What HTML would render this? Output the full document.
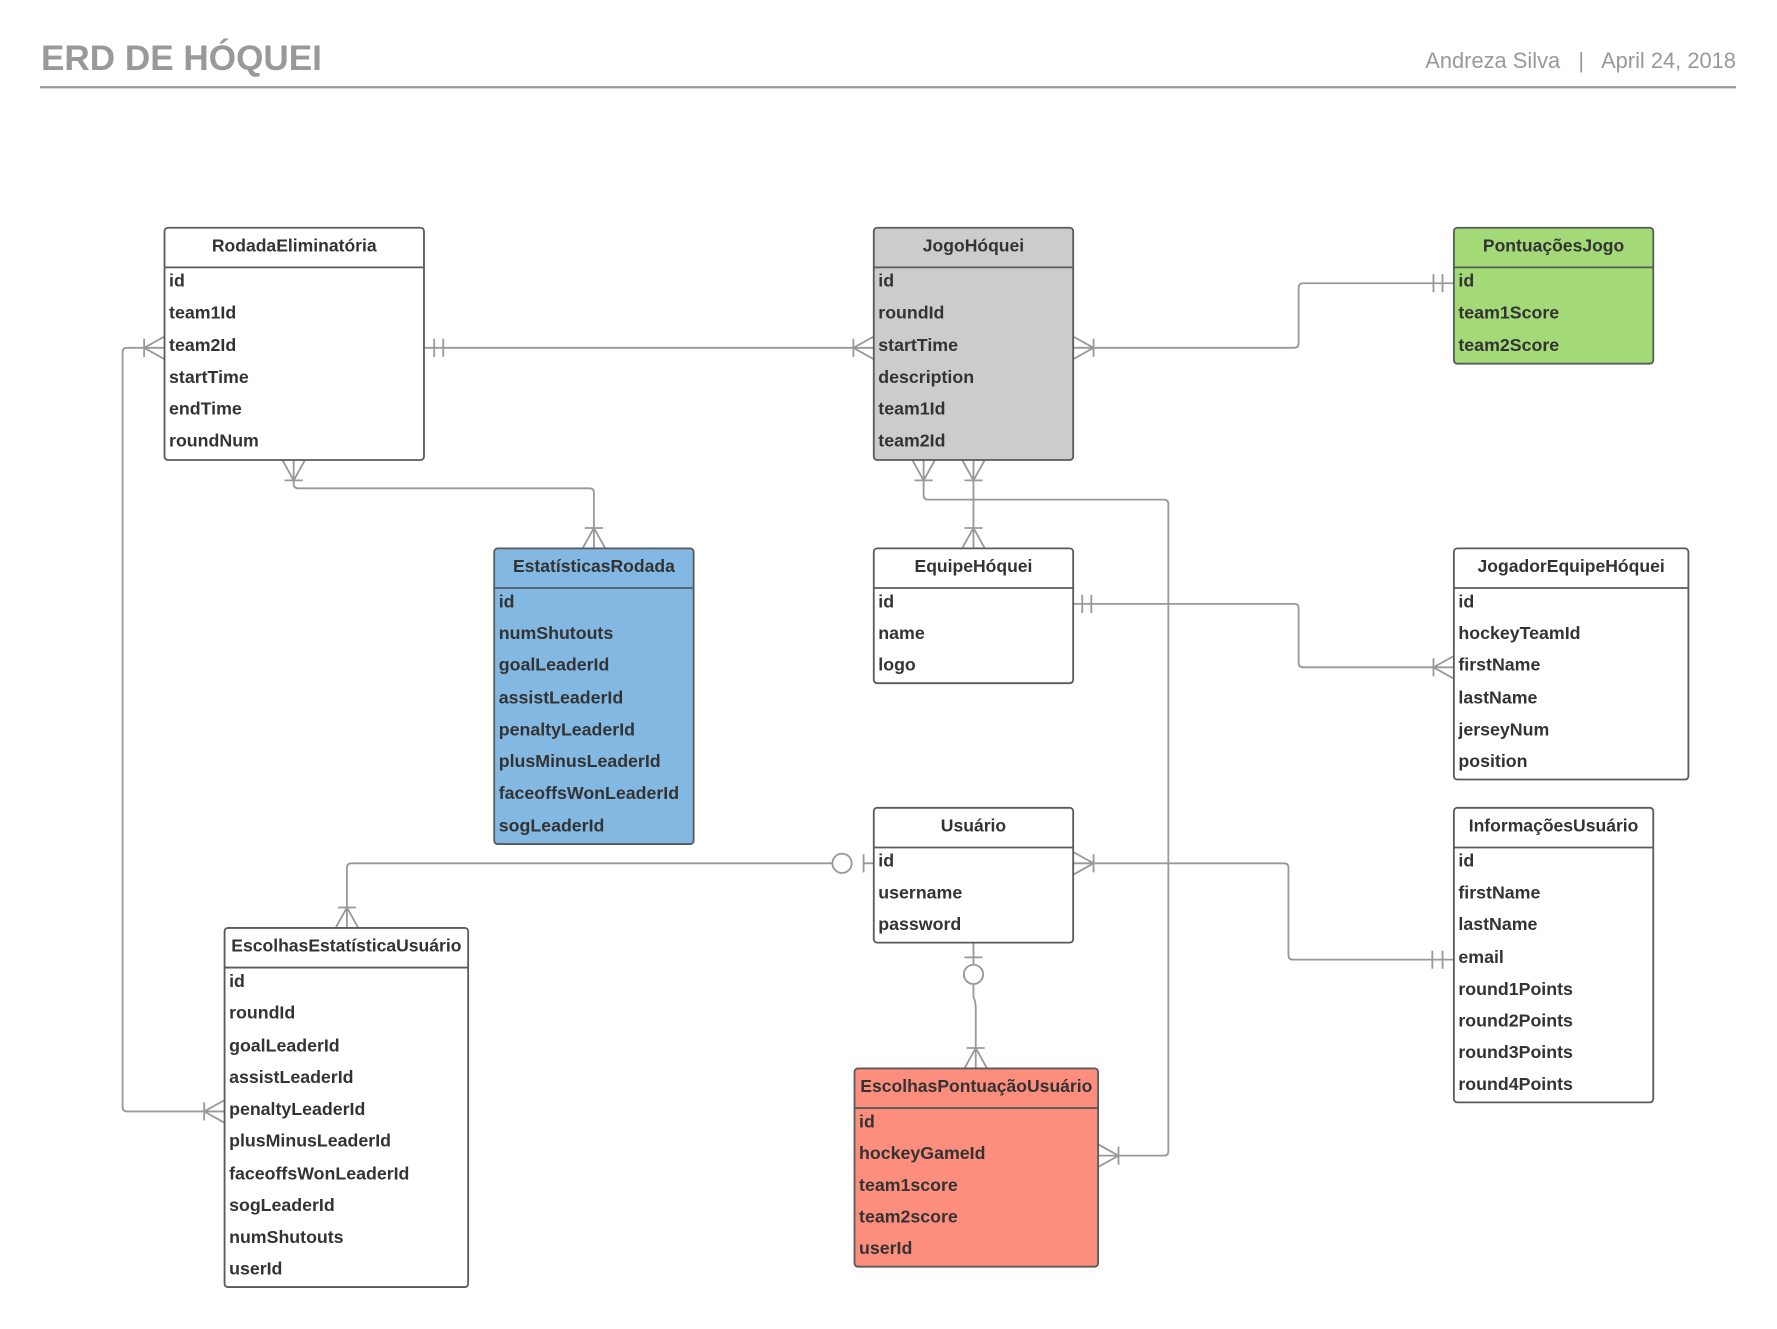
<!DOCTYPE html>
<html><head><meta charset="utf-8"><style>
html,body{margin:0;padding:0;background:#fff;}
svg{display:block;}
text{font-family:"Liberation Sans",Arial,sans-serif;}
.h{font-size:15.5px;font-weight:bold;fill:#333;text-anchor:middle;}
.r{font-size:15.7px;font-weight:bold;fill:#333;}
.b{stroke:#5a5a5a;stroke-width:1.6;}
.c{fill:none;stroke:#999;stroke-width:1.6;}
</style></head><body>
<svg width="1777" height="1329" viewBox="0 0 1568 1173" xmlns="http://www.w3.org/2000/svg">
<text x="36" y="62" style="font-size:31px;font-weight:bold;fill:#999">ERD DE HÓQUEI</text>
<text x="1532" y="60" style="font-size:19.3px;fill:#999;text-anchor:end;white-space:pre" xml:space="preserve">Andreza Silva   |   April 24, 2018</text>
<line x1="35" y1="77" x2="1532" y2="77" stroke="#999" stroke-width="2"/>

<g class="c">
<path d="M374 307 H771"/><path d="M383 299 V315 M391 299 V315"/><path d="M753 307 L771 297 M753 307 L771 317 M753 299 V315"/>
<path d="M947 307 H1142 Q1146 307 1146 303 V254 Q1146 250 1150 250 H1283"/><path d="M965 307 L947 297 M965 307 L947 317 M965 299 V315"/><path d="M1265 242 V258 M1273 242 V258"/>
<path d="M145 307 H112 Q108 307 108 311 V977 Q108 981 112 981 H198"/><path d="M127 307 L145 297 M127 307 L145 317 M127 299 V315"/><path d="M180 981 L198 971 M180 981 L198 991 M180 973 V989"/>
<path d="M259 406 V427 Q259 431 263 431 H520 Q524 431 524 435 V484"/><path d="M259 424 L249 406 M259 424 L269 406 M251 424 H267"/><path d="M524 466 L514 484 M524 466 L534 484 M516 466 H532"/>
<path d="M859 406 V484"/><path d="M859 424 L849 406 M859 424 L869 406 M851 424 H867"/><path d="M859 466 L849 484 M859 466 L869 484 M851 466 H867"/>
<path d="M815 406 V437 Q815 441 819 441 H1027 Q1031 441 1031 445 V1016 Q1031 1020 1027 1020 H969"/><path d="M815 424 L805 406 M815 424 L825 406 M807 424 H823"/><path d="M987 1020 L969 1010 M987 1020 L969 1030 M987 1012 V1028"/>
<path d="M947 533 H1142 Q1146 533 1146 537 V585 Q1146 589 1150 589 H1283"/><path d="M955 525 V541 M963 525 V541"/><path d="M1265 589 L1283 579 M1265 589 L1283 599 M1265 581 V597"/>
<path d="M752 762 H310 Q306 762 306 766 V819"/><path d="M762 754 V770 M771 762 H762"/><circle cx="743" cy="762" r="8.5" fill="#fff"/><path d="M306 801 L296 819 M306 801 L316 819 M298 801 H314"/>
<path d="M947 762 H1133 Q1137 762 1137 766 V843 Q1137 847 1141 847 H1283"/><path d="M965 762 L947 752 M965 762 L947 772 M965 754 V770"/><path d="M1264 839 V855 M1273 839 V855"/>
<path d="M859 832 V851 M859 869 V880 Q861 884 861 890 V943"/><path d="M851 845 H867"/><circle cx="859" cy="860" r="8.5" fill="#fff"/><path d="M861 925 L851 943 M861 925 L871 943 M853 925 H869"/>
</g>

<rect class="b" x="145" y="201" width="229" height="205" rx="3" fill="#fff"/><line class="b" x1="145" y1="236" x2="374" y2="236"/>
<text class="h" x="259.5" y="222">RodadaEliminatória</text>
<text class="r" x="149" y="253">id</text><text class="r" x="149" y="281">team1Id</text><text class="r" x="149" y="310">team2Id</text><text class="r" x="149" y="338">startTime</text><text class="r" x="149" y="366">endTime</text><text class="r" x="149" y="394">roundNum</text>

<rect class="b" x="771" y="201" width="176" height="205" rx="3" fill="#cccccc"/><line class="b" x1="771" y1="236" x2="947" y2="236"/>
<text class="h" x="859" y="222">JogoHóquei</text>
<text class="r" x="775" y="253">id</text><text class="r" x="775" y="281">roundId</text><text class="r" x="775" y="310">startTime</text><text class="r" x="775" y="338">description</text><text class="r" x="775" y="366">team1Id</text><text class="r" x="775" y="394">team2Id</text>

<rect class="b" x="1283" y="201" width="176" height="120" rx="3" fill="#a3d977"/><line class="b" x1="1283" y1="236" x2="1459" y2="236"/>
<text class="h" x="1371" y="222">PontuaçõesJogo</text>
<text class="r" x="1287" y="253">id</text><text class="r" x="1287" y="281">team1Score</text><text class="r" x="1287" y="310">team2Score</text>

<rect class="b" x="436" y="484" width="176" height="261" rx="3" fill="#83b8e3"/><line class="b" x1="436" y1="519" x2="612" y2="519"/>
<text class="h" x="524" y="505">EstatísticasRodada</text>
<text class="r" x="440" y="536">id</text><text class="r" x="440" y="564">numShutouts</text><text class="r" x="440" y="592">goalLeaderId</text><text class="r" x="440" y="621">assistLeaderId</text><text class="r" x="440" y="649">penaltyLeaderId</text><text class="r" x="440" y="677">plusMinusLeaderId</text><text class="r" x="440" y="705">faceoffsWonLeaderId</text><text class="r" x="440" y="734">sogLeaderId</text>

<rect class="b" x="771" y="484" width="176" height="119" rx="3" fill="#fff"/><line class="b" x1="771" y1="519" x2="947" y2="519"/>
<text class="h" x="859" y="505">EquipeHóquei</text>
<text class="r" x="775" y="536">id</text><text class="r" x="775" y="564">name</text><text class="r" x="775" y="592">logo</text>

<rect class="b" x="1283" y="484" width="207" height="204" rx="3" fill="#fff"/><line class="b" x1="1283" y1="519" x2="1490" y2="519"/>
<text class="h" x="1386.5" y="505">JogadorEquipeHóquei</text>
<text class="r" x="1287" y="536">id</text><text class="r" x="1287" y="564">hockeyTeamId</text><text class="r" x="1287" y="592">firstName</text><text class="r" x="1287" y="621">lastName</text><text class="r" x="1287" y="649">jerseyNum</text><text class="r" x="1287" y="677">position</text>

<rect class="b" x="771" y="713" width="176" height="119" rx="3" fill="#fff"/><line class="b" x1="771" y1="748" x2="947" y2="748"/>
<text class="h" x="859" y="734">Usuário</text>
<text class="r" x="775" y="765">id</text><text class="r" x="775" y="793">username</text><text class="r" x="775" y="821">password</text>

<rect class="b" x="1283" y="713" width="176" height="260" rx="3" fill="#fff"/><line class="b" x1="1283" y1="748" x2="1459" y2="748"/>
<text class="h" x="1371" y="734">InformaçõesUsuário</text>
<text class="r" x="1287" y="765">id</text><text class="r" x="1287" y="793">firstName</text><text class="r" x="1287" y="821">lastName</text><text class="r" x="1287" y="850">email</text><text class="r" x="1287" y="878">round1Points</text><text class="r" x="1287" y="906">round2Points</text><text class="r" x="1287" y="934">round3Points</text><text class="r" x="1287" y="962">round4Points</text>

<rect class="b" x="198" y="819" width="215" height="317" rx="3" fill="#fff"/><line class="b" x1="198" y1="854" x2="413" y2="854"/>
<text class="h" x="305.5" y="840">EscolhasEstatísticaUsuário</text>
<text class="r" x="202" y="871">id</text><text class="r" x="202" y="899">roundId</text><text class="r" x="202" y="928">goalLeaderId</text><text class="r" x="202" y="956">assistLeaderId</text><text class="r" x="202" y="984">penaltyLeaderId</text><text class="r" x="202" y="1012">plusMinusLeaderId</text><text class="r" x="202" y="1041">faceoffsWonLeaderId</text><text class="r" x="202" y="1069">sogLeaderId</text><text class="r" x="202" y="1097">numShutouts</text><text class="r" x="202" y="1125">userId</text>

<rect class="b" x="754" y="943" width="215" height="175" rx="3" fill="#fd8e7e"/><line class="b" x1="754" y1="978" x2="969" y2="978"/>
<text class="h" x="861.5" y="964">EscolhasPontuaçãoUsuário</text>
<text class="r" x="758" y="995">id</text><text class="r" x="758" y="1023">hockeyGameId</text><text class="r" x="758" y="1051">team1score</text><text class="r" x="758" y="1079">team2score</text><text class="r" x="758" y="1107">userId</text>
</svg>
</body></html>
